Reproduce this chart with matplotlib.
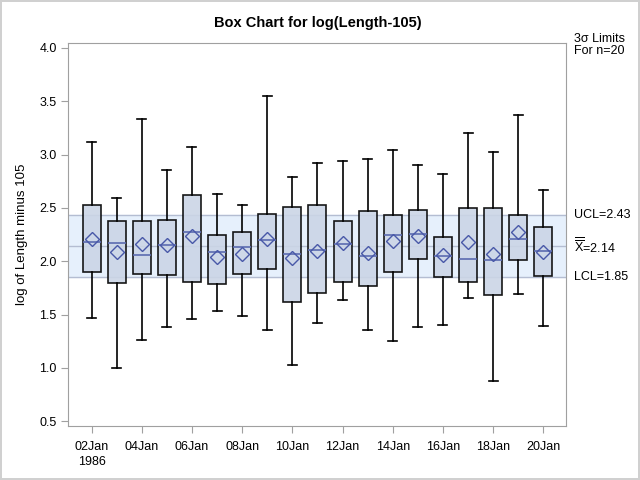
import matplotlib
matplotlib.use("Agg")
import matplotlib.pyplot as plt
import numpy as np

plt.rcParams['font.family'] = ['Liberation Sans', 'DejaVu Sans']
plt.rcParams['mathtext.fontset'] = 'custom'
plt.rcParams['mathtext.rm'] = 'Liberation Sans'

days = ['02Jan', '03Jan', '04Jan', '05Jan', '06Jan', '07Jan', '08Jan', '09Jan', '10Jan', '11Jan',
        '12Jan', '13Jan', '14Jan', '15Jan', '16Jan', '17Jan', '18Jan', '19Jan', '20Jan']
whishi = [3.12, 2.59, 3.33, 2.86, 3.07, 2.63, 2.53, 3.55, 2.79, 2.92, 2.94, 2.96, 3.04, 2.90, 2.82, 3.20, 3.02, 3.37, 2.67]
q3 = [2.53, 2.38, 2.38, 2.39, 2.62, 2.25, 2.27, 2.44, 2.51, 2.53, 2.38, 2.47, 2.43, 2.48, 2.23, 2.50, 2.50, 2.43, 2.32]
med = [2.18, 2.17, 2.06, 2.15, 2.27, 2.09, 2.13, 2.20, 2.07, 2.11, 2.16, 2.05, 2.25, 2.26, 2.05, 2.02, 2.01, 2.21, 2.10]
mean = [2.21, 2.09, 2.16, 2.15, 2.24, 2.04, 2.07, 2.21, 2.03, 2.10, 2.17, 2.08, 2.19, 2.24, 2.06, 2.18, 2.07, 2.27, 2.09]
q1 = [1.90, 1.80, 1.88, 1.87, 1.81, 1.79, 1.88, 1.93, 1.62, 1.70, 1.81, 1.77, 1.90, 2.02, 1.85, 1.81, 1.68, 2.01, 1.86]
whislo = [1.47, 1.00, 1.26, 1.38, 1.46, 1.53, 1.49, 1.36, 1.03, 1.42, 1.64, 1.36, 1.25, 1.38, 1.40, 1.66, 0.88, 1.69, 1.39]

ucl, xbar, lcl = 2.43, 2.14, 1.85

stats = []
for i in range(len(days)):
    stats.append(dict(med=med[i], q1=q1[i], q3=q3[i], whislo=whislo[i],
                      whishi=whishi[i], mean=mean[i], fliers=[]))

fig = plt.figure(figsize=(6.4, 4.8), dpi=100)
fig.patch.set_edgecolor('#d0d0d0')
fig.patch.set_linewidth(1.5)
ax = fig.add_axes([0.107, 0.1125, 0.778, 0.7975])

gray = '#a0a0a0'
band_line = '#b4bdd2'
ax.axhspan(lcl, ucl, color='#e6f0fc', zorder=0)
for v in (lcl, xbar, ucl):
    ax.axhline(v, color=band_line, lw=1.0, zorder=1)

pos = np.arange(len(days))
ax.bxp(stats, positions=pos, widths=0.72, capwidths=0.36, showmeans=True,
       patch_artist=True, manage_ticks=False,
       boxprops=dict(facecolor='#cbd5e6', edgecolor='black', linewidth=1.2, alpha=0.9),
       whiskerprops=dict(color='black', linewidth=1.2),
       capprops=dict(color='black', linewidth=1.2),
       medianprops=dict(color='#5c6cb0', linewidth=1.2),
       meanprops=dict(marker='D', markerfacecolor='none', markeredgecolor='#4858a8',
                      markersize=7, markeredgewidth=1.0))

ax.set_xlim(-0.92, 18.92)
ax.set_ylim(0.455, 4.045)
ax.set_yticks(np.arange(0.5, 4.01, 0.5))
ax.set_yticklabels(['%.1f' % v for v in np.arange(0.5, 4.01, 0.5)])
xlabels = [d for d in days[::2]]
xlabels[0] = xlabels[0] + '\n1986'
ax.set_xticks(pos[::2])
ax.set_xticklabels(xlabels, linespacing=1.3)

for s in ax.spines.values():
    s.set_color(gray)
ax.tick_params(colors=gray, labelcolor='black', labelsize=9, length=5)
ax.tick_params(axis='x', pad=6)

ax.set_ylabel('log of Length minus 105', fontsize=9.5, labelpad=8)
ax.set_title('Box Chart for log(Length-105)', fontsize=10.5, fontweight='bold', pad=12)

tr = ax.get_yaxis_transform()
ax.text(1.015, 4.03, '3σ Limits\nFor n=20', transform=tr, fontsize=9, va='center', ha='left',
        linespacing=1.0, clip_on=False)
ax.text(1.015, ucl, 'UCL=%.2f' % ucl, transform=tr, fontsize=9, va='center', ha='left')
ax.text(1.015, xbar, r'$\overline{\overline{\mathrm{X}}}$=%.2f' % xbar, transform=tr,
        fontsize=9, va='center', ha='left')
ax.text(1.015, lcl, 'LCL=%.2f' % lcl, transform=tr, fontsize=9, va='center', ha='left')

fig.savefig('out.png', dpi=100)
